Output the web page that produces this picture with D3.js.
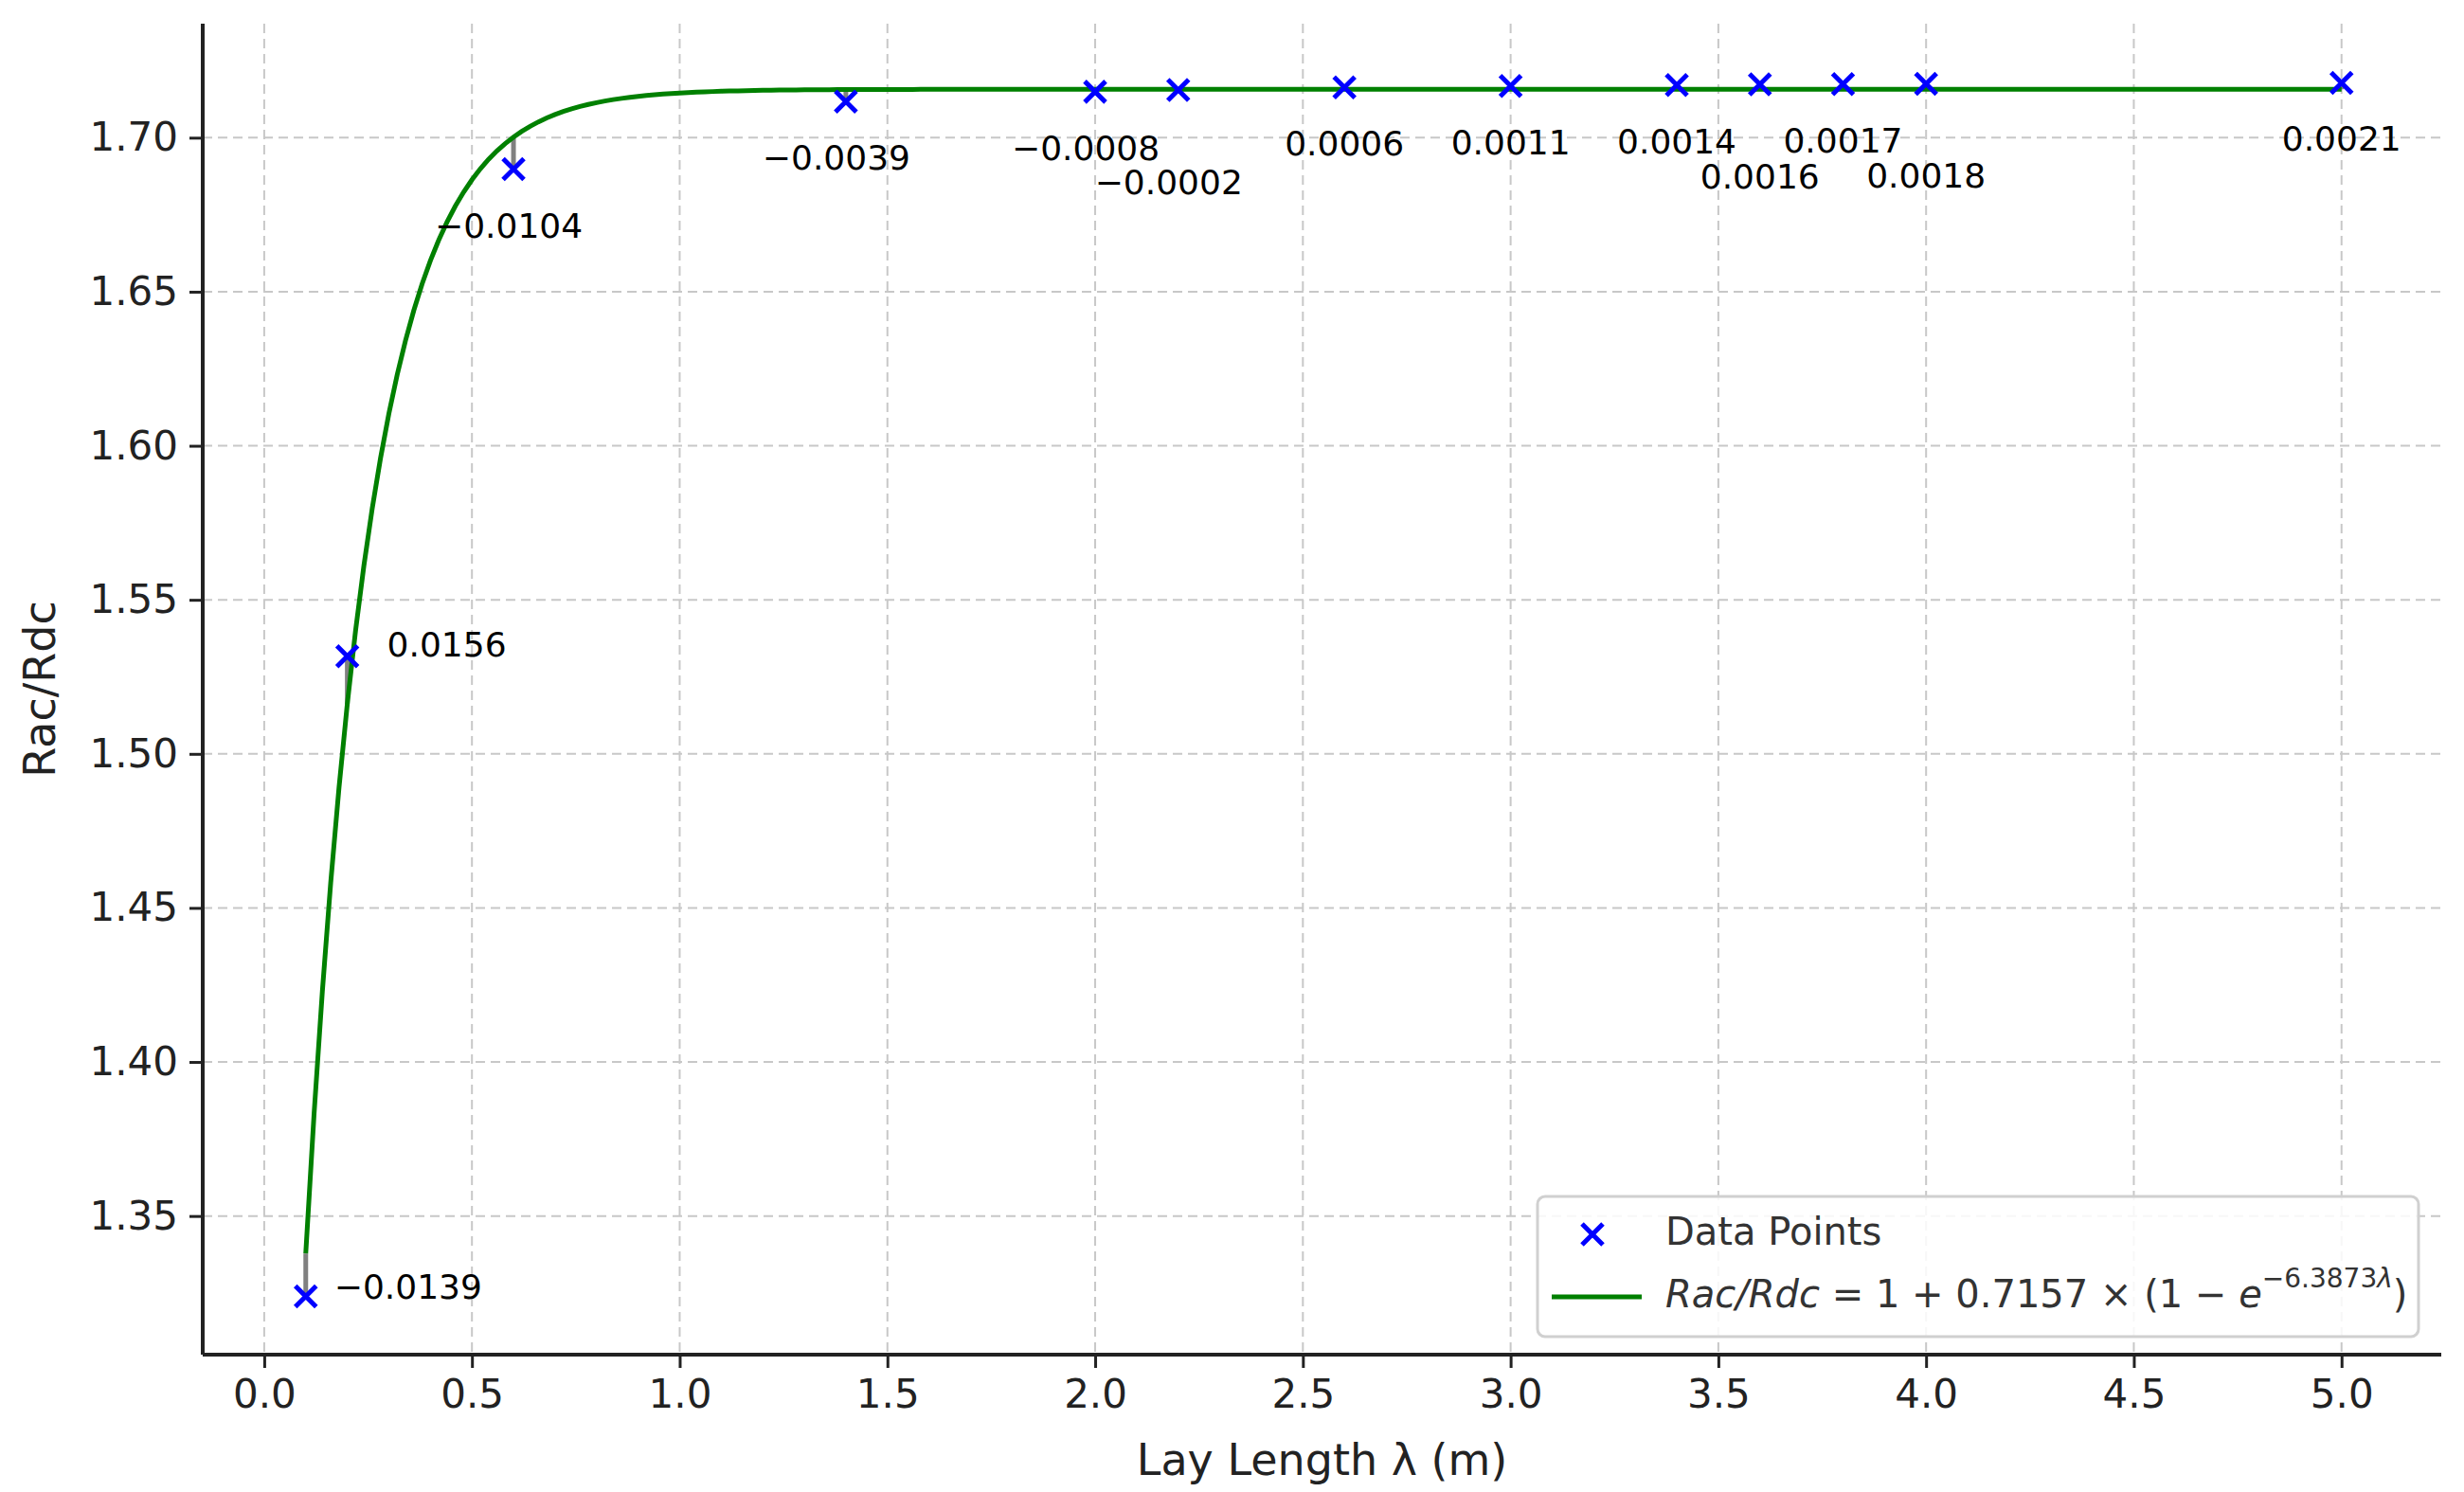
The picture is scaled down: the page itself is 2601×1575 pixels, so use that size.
<!DOCTYPE html>
<html><head><meta charset="utf-8">
<script src="https://cdn.jsdelivr.net/npm/d3@7"></script>
<style>body{margin:0;background:#fff}text{font-family:"DejaVu Sans",sans-serif}</style>
</head><body>
<svg id="chart" width="2601" height="1575"></svg>
<script>
// measured points (Rac/Rdc vs lay length)
const layLength = [0.1, 0.2, 0.6, 1.4, 2.0, 2.2, 2.6, 3.0, 3.4, 3.6, 3.8, 4.0, 5.0];
const racRdc = [1.3239, 1.5317, 1.6898, 1.7117, 1.7149, 1.7155, 1.7163, 1.7168, 1.7171, 1.7173, 1.7174, 1.7175, 1.7178];
const residLabels = ["\u22120.0139", "0.0156", "\u22120.0104", "\u22120.0039", "\u22120.0008", "\u22120.0002",
  "0.0006", "0.0011", "0.0014", "0.0016", "0.0017", "0.0018", "0.0021"];
// label offsets from each point (px)
const labelDx = [30, 42, -5, -10, -10, -10, 0, 0, 0, 0, 0, 0, 0];
const labelDy = [-8, -10, 62, 62, 62, 100, 62, 62, 62, 100, 62, 100, 62];
const labelAnchor = ["start", "start", "middle", "middle", "middle", "middle", "middle", "middle", "middle", "middle", "middle", "middle", "middle"];
const xTicks = [0, 0.5, 1, 1.5, 2, 2.5, 3, 3.5, 4, 4.5, 5];
const yTicks = [1.35, 1.40, 1.45, 1.50, 1.55, 1.60, 1.65, 1.70];
const fitA = 0.7157, fitB = 6.3873;
const fit = x => 1 + fitA * (1 - Math.exp(-fitB * x));

const svg = d3.select("#chart");
const mLeft = 214, mRight = 2577, mTop = 25, mBottom = 1430;
const x = d3.scaleLinear().domain([-0.148, 5.24]).range([mLeft, mRight]);
const y = d3.scaleLinear().domain([1.305, 1.737]).range([mBottom, mTop]);

// grid
svg.append("g").selectAll("line").data(xTicks).join("line")
  .attr("x1", d => x(d)).attr("x2", d => x(d)).attr("y1", mTop).attr("y2", mBottom)
  .attr("stroke", "#c8c8c8").attr("stroke-width", 2).attr("stroke-dasharray", "10,6");
svg.append("g").selectAll("line").data(yTicks).join("line")
  .attr("y1", d => y(d)).attr("y2", d => y(d)).attr("x1", mLeft).attr("x2", mRight)
  .attr("stroke", "#c8c8c8").attr("stroke-width", 2).attr("stroke-dasharray", "10,6");

// axes
const xAxis = svg.append("g").attr("transform", `translate(0,${mBottom})`)
  .call(d3.axisBottom(x).tickValues(xTicks).tickFormat(d3.format(".1f")).tickSize(14).tickPadding(12));
const yAxis = svg.append("g").attr("transform", `translate(${mLeft},0)`)
  .call(d3.axisLeft(y).tickValues(yTicks).tickFormat(d3.format(".2f")).tickSize(14).tickPadding(12));
[xAxis, yAxis].forEach(a => {
  a.select(".domain").attr("stroke", "#222").attr("stroke-width", 4);
  a.selectAll(".tick line").attr("stroke", "#222").attr("stroke-width", 3);
  a.selectAll("text").attr("font-size", 42).attr("fill", "#222");
});
xAxis.select(".domain").attr("d", `M${mLeft},0H${mRight}`);
yAxis.select(".domain").attr("d", `M0,${mTop}V${mBottom}`);

svg.append("text").attr("x", (mLeft + mRight) / 2).attr("y", 1557).attr("text-anchor", "middle")
  .attr("font-size", 46).attr("fill", "#222").text("Lay Length \u03bb (m)");
svg.append("text").attr("transform", `translate(58,${(mTop + mBottom) / 2}) rotate(-90)`)
  .attr("text-anchor", "middle").attr("font-size", 46).attr("fill", "#222").text("Rac/Rdc");

// residual lines
svg.append("g").selectAll("line").data(layLength).join("line")
  .attr("x1", d => x(d)).attr("x2", d => x(d))
  .attr("y1", (d, i) => y(racRdc[i])).attr("y2", d => y(fit(d)))
  .attr("stroke", "#808080").attr("stroke-width", 5);

// fit curve
const curveX = d3.range(0.1, 5.0001, 0.02);
svg.append("path").datum(curveX)
  .attr("d", d3.line().x(d => x(d)).y(d => y(fit(d))))
  .attr("fill", "none").attr("stroke", "green").attr("stroke-width", 5);

// markers
const cross = (cx, cy, s) => `M${cx - s},${cy - s}L${cx + s},${cy + s}M${cx - s},${cy + s}L${cx + s},${cy - s}`;
svg.append("g").selectAll("path").data(layLength).join("path")
  .attr("d", (d, i) => cross(x(d), y(racRdc[i]), 11))
  .attr("stroke", "blue").attr("stroke-width", 5).attr("fill", "none");

// residual labels
svg.append("g").selectAll("text").data(layLength).join("text")
  .attr("x", (d, i) => x(d) + labelDx[i]).attr("y", (d, i) => y(racRdc[i]) + labelDy[i])
  .attr("text-anchor", (d, i) => labelAnchor[i]).attr("dominant-baseline", "middle")
  .attr("font-size", 36).attr("fill", "#000").text((d, i) => residLabels[i]);

// legend
const lg = svg.append("g").attr("transform", "translate(1623,1263)");
lg.append("rect").attr("width", 930).attr("height", 148).attr("rx", 8)
  .attr("fill", "#fff").attr("fill-opacity", 0.85).attr("stroke", "#d0d0d0").attr("stroke-width", 3);
lg.append("path").attr("d", cross(58, 40, 11)).attr("stroke", "blue").attr("stroke-width", 5);
lg.append("text").attr("x", 135).attr("y", 40).attr("dominant-baseline", "middle")
  .attr("font-size", 40).attr("fill", "#333").text("Data Points");
lg.append("line").attr("x1", 15).attr("x2", 110).attr("y1", 106).attr("y2", 106)
  .attr("stroke", "green").attr("stroke-width", 5);
const eq = lg.append("text").attr("x", 135).attr("y", 106).attr("dominant-baseline", "middle")
  .attr("font-size", 40).attr("fill", "#333");
eq.append("tspan").attr("font-style", "italic").text("Rac/Rdc");
eq.append("tspan").text(" = 1 + 0.7157 \u00d7 (1 \u2212 ");
eq.append("tspan").attr("font-style", "italic").text("e");
eq.append("tspan").attr("font-size", 28).attr("dy", -18).text("\u22126.3873");
eq.append("tspan").attr("font-size", 28).attr("font-style", "italic").text("\u03bb");
eq.append("tspan").attr("dy", 18).text(")");
</script>
</body></html>
